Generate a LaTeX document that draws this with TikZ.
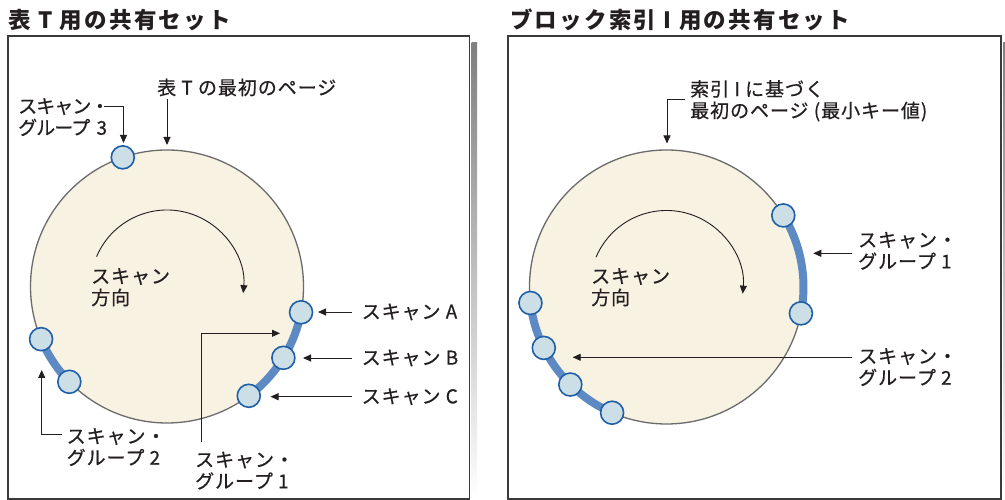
\documentclass[tikz,border=0pt]{standalone}
\usepackage{fontspec}
\newfontfamily\jp[LetterSpace=5,FakeBold=0.5]{Noto Sans CJK JP}
\newfontfamily\jpc[LetterSpace=-5,FakeBold=0.5]{Noto Sans CJK JP}
\newfontfamily\jpt[LetterSpace=10]{Noto Sans CJK JP}
\usetikzlibrary{arrows.meta,calc}
\definecolor{cream}{HTML}{F7F2E1}
\definecolor{rim}{HTML}{6B6B6B}
\definecolor{mfill}{HTML}{CCDFE6}
\definecolor{mdraw}{HTML}{1F5FA8}
\definecolor{band}{HTML}{5E8AC4}
\definecolor{ink}{HTML}{231F20}
\definecolor{shade}{HTML}{DCDCDC}
\definecolor{frame}{HTML}{3A3A3A}
\begin{document}
\begin{tikzpicture}[x=1pt,y=1pt,
 lab/.style={font=\jp\fontsize{19}{21.5}\selectfont, text=ink, inner sep=0pt, align=left},
 labc/.style={font=\jpc\fontsize{19}{21.5}\selectfont, text=ink, inner sep=0pt, align=left},
 ttl/.style={font=\jpt\bfseries\fontsize{22.5}{26}\selectfont, text=ink, inner sep=0pt, anchor=west},
 disk/.style={circle, fill=cream, draw=rim, line width=1.3pt, inner sep=0pt},
 marker/.style={circle, minimum size=23pt, inner sep=0pt, fill=mfill, draw=mdraw, line width=1.6pt},
 bandarc/.style={draw=band, line width=8pt},
 arr/.style={draw=ink, line width=0.9pt, -{Triangle[length=8pt,width=7pt]}},
 panel/.style={draw=frame, line width=1.5pt, fill=white},
]
\useasboundingbox (0,0) rectangle (1005,500);
% panels
\fill[shade] (471.5,1) rectangle (477,457);
\fill[shade] (1003,1) rectangle (1005,457);
\draw[panel] (8,1) rectangle (469.5,464);
\draw[panel] (508,1) rectangle (1001,464);
% titles
\node[ttl] (titleL) at (8,480) {表 T 用の共有セット};
\node[ttl] (titleR) at (510,480) {ブロック索引 I 用の共有セット};
% disks
\node[disk, minimum size=273pt] (diskL) at (167,213.5) {};
\node[disk, minimum size=274pt] (diskR) at (666.5,213) {};
% bands
\draw[bandarc] ($(diskL.center)+(-10.9:136.5pt)$) arc[start angle=-10.9,end angle=-53.2,radius=136.5pt];
\draw[bandarc] ($(diskL.center)+(202.7:136.5pt)$) arc[start angle=202.7,end angle=224.3,radius=136.5pt];
\draw[bandarc] ($(diskR.center)+(31.5:137pt)$) arc[start angle=31.5,end angle=-11.1,radius=137pt];
\draw[bandarc] ($(diskR.center)+(186.7:137pt)$) arc[start angle=186.7,end angle=246.6,radius=137pt];
% markers left
\node[marker] (mG3) at ($(diskL.center)+(108.9:136.5pt)$) {};
\node[marker] (mA) at ($(diskL.center)+(-10.9:136.5pt)$) {};
\node[marker] (mB) at ($(diskL.center)+(-31.5:136.5pt)$) {};
\node[marker] (mC) at ($(diskL.center)+(-53.2:136.5pt)$) {};
\node[marker] (mL2a) at ($(diskL.center)+(202.7:136.5pt)$) {};
\node[marker] (mL2b) at ($(diskL.center)+(224.3:136.5pt)$) {};
% markers right
\node[marker] (mR1a) at ($(diskR.center)+(31.5:137pt)$) {};
\node[marker] (mR1b) at ($(diskR.center)+(-11.1:137pt)$) {};
\node[marker] (mR2a) at ($(diskR.center)+(186.7:137pt)$) {};
\node[marker] (mR2b) at ($(diskR.center)+(206.4:137pt)$) {};
\node[marker] (mR2c) at ($(diskR.center)+(225.4:137pt)$) {};
\node[marker] (mR2d) at ($(diskR.center)+(246.6:137pt)$) {};
% scan direction
\draw[arr] ($(diskL.center)+(157:76.5pt)$) arc[start angle=157,end angle=-5,radius=76.5pt];
\draw[arr] ($(diskR.center)+(157:76.5pt)$) arc[start angle=157,end angle=-5,radius=76.5pt];
\node[lab, anchor=north west] (dirL) at (91,232) {スキャン\\方向};
\node[lab, anchor=north west] (dirR) at (591,232) {スキャン\\方向};
% left labels
\node[lab, anchor=west] (firstL) at (157,412.5) {表 T の最初のページ};
\coordinate (firstLtip) at (167,355);
\draw[arr] (firstL.south west -| firstLtip) ++(0,-3) -- (firstLtip);
\node[labc, anchor=north west] (g3L) at (18,402) {スキャン・\\グループ\hspace{3pt} 3};
\coordinate (g3bend) at (123.5,393.5);
\coordinate (g3tip) at (123.5,357);
\draw[arr] (g3L.west |- g3bend) ++(86,0) -- (g3bend) -- (g3tip);
\node[lab, anchor=west] (scanA) at (361.5,188) {スキャン A};
\node[lab, anchor=west] (scanB) at (361.5,142) {スキャン B};
\node[lab, anchor=west] (scanC) at (361.5,103.3) {スキャン C};
\coordinate (tipA) at (318,188);
\coordinate (tipB) at (303,142);
\coordinate (tipC) at (270.5,103.3);
\draw[arr] ([xshift=-10pt]scanA.west) -- (scanA.west -| tipA);
\draw[arr] ([xshift=-10pt]scanB.west) -- (scanB.west -| tipB);
\draw[arr] ([xshift=-10pt]scanC.west) -- (scanC.west -| tipC);
\node[lab, anchor=north west] (g1L) at (195,48.5) {スキャン・\\グループ 1};
\coordinate (g1Lbend) at (201.7,166.7);
\coordinate (g1Ltip) at (280,166.7);
\draw[arr] ([xshift=6.7pt,yshift=9.5pt]g1L.north west) -- (g1Lbend) -- (g1Ltip);
\node[lab, anchor=north west] (g2L) at (66.5,72) {スキャン・\\グループ 2};
\coordinate (g2Lbend) at (41.7,66);
\coordinate (g2Ltip) at (41.7,130);
\draw[arr] ([xshift=-4.5pt]g2L.west |- g2Lbend) -- (g2Lbend) -- (g2Ltip);
% right labels
\node[lab, anchor=north west] (firstR) at (690,420) {索引 I に基づく\\最初のページ (最小キー値)};
\coordinate (firstRbend) at (667,400.5);
\coordinate (firstRtip) at (667,356.5);
\draw[arr] ([xshift=-5pt]firstR.west |- firstRbend) -- (firstRbend) -- (firstRtip);
\node[lab, anchor=north west] (g1R) at (858,268.3) {スキャン・\\グループ 1};
\coordinate (g1Rtip) at (813.3,246.7);
\draw[arr] ([xshift=-6.3pt]g1R.west |- g1Rtip) -- (g1Rtip);
\node[lab, anchor=north west] (g2R) at (858,152) {スキャン・\\グループ 2};
\coordinate (g2Rtip) at (572.7,142.7);
\draw[arr] ([xshift=-6.3pt]g2R.west |- g2Rtip) -- (g2Rtip);
\end{tikzpicture}
\end{document}
